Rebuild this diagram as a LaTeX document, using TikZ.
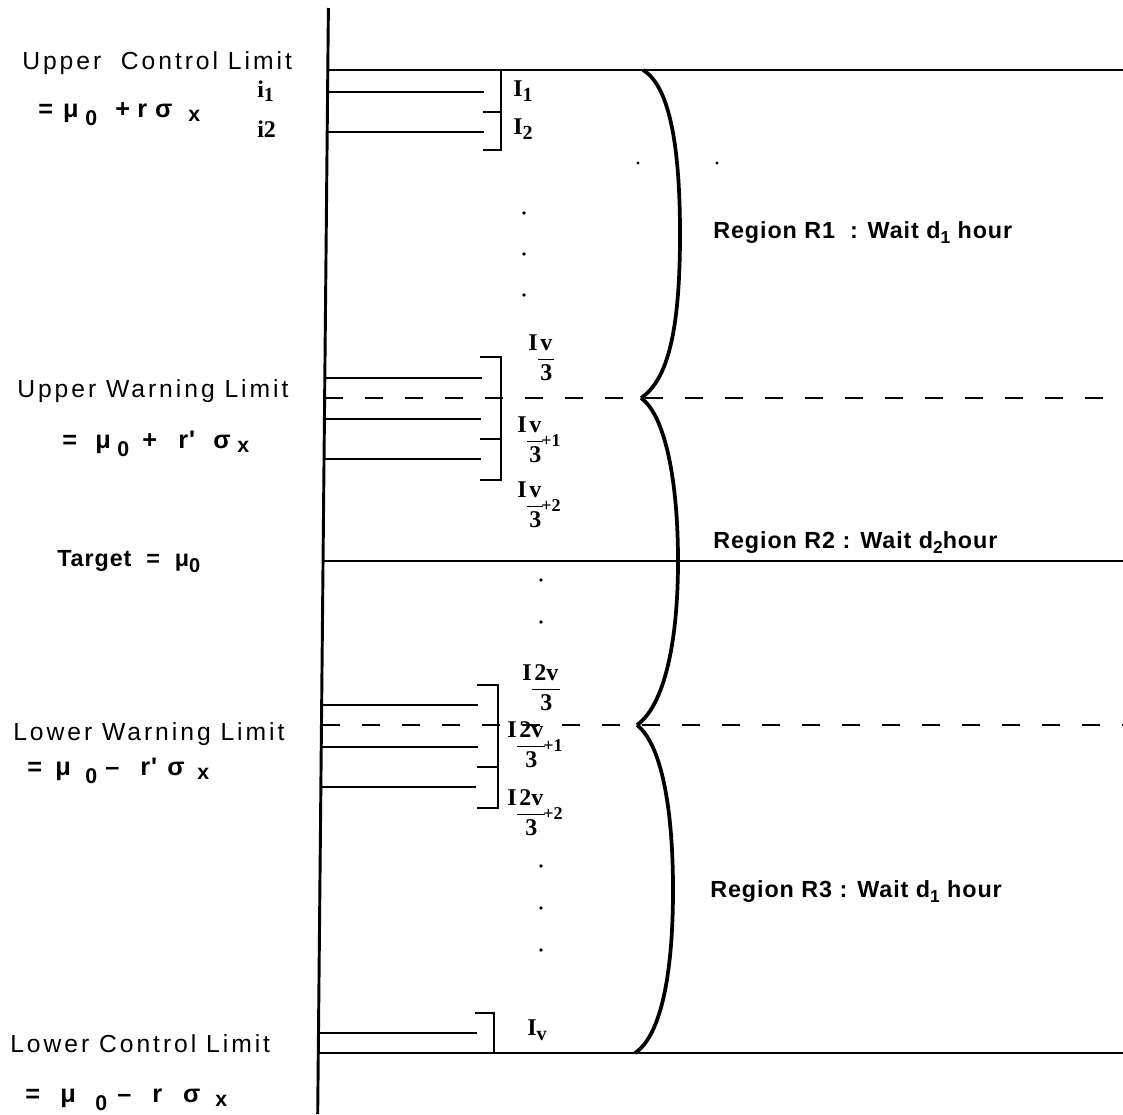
\documentclass[tikz,border=0pt]{standalone}
\usepackage{fontspec}
\setmainfont{Liberation Sans}
\newfontfamily\lblfont[LetterSpace=12]{Liberation Sans}
\newfontfamily\sfb[LetterSpace=4]{Liberation Sans}
\newfontfamily\serfont{Liberation Serif}
\newcommand{\cellw}[2]{\makebox[\dimexpr#1pt*3/4\relax][l]{#2}}
\newcommand{\lw}[3][13]{\raisebox{-#2pt}{\fontsize{#1}{#1}\selectfont #3}}
\newcommand{\Ifr}[2]{I\kern0.5pt\vtop{\halign{\hfil\kern1.5pt##\kern1.5pt\hfil\cr #1\cr\noalign{\kern6.5pt\hrule height 1pt\kern3.5pt}3\cr}}\raisebox{-11.2pt}{\kern-1.5pt\fontsize{13.5}{13.5}\selectfont #2}}
\begin{document}
\begin{tikzpicture}[x=0.75pt,y=-0.75pt,
 ln/.style={line width=2.2pt},
 br/.style={line width=2.8pt},
 dsh/.style={line width=2.2pt,dash pattern=on 14pt off 16pt},
 lbl/.style={anchor=base west,inner sep=0,font={\fontsize{18.5}{22}\lblfont}},
 eq/.style={anchor=base west,inner sep=0,font={\fontsize{19}{22}\sfb\bfseries}},
 reg/.style={anchor=base west,inner sep=0,font={\fontsize{17.5}{21}\sfb\bfseries}},
 ser/.style={anchor=base west,inner sep=0,font={\fontsize{18}{21}\serfont\bfseries}}]
\fill[white] (0,0) rectangle (1123,1114);
\useasboundingbox (0,0) rectangle (1123,1114);
% axis
\coordinate (axtop) at (328.4,8);
\coordinate (axbot) at (317.7,1114);
\draw[ln] (axtop) -- (axbot);
% main horizontal lines
\draw[ln] (327.8,70) -- (1123,70);
\draw[ln] (323.1,561) -- (1123,561);
\draw[ln] (318.3,1053) -- (1123,1053);
\draw[dsh] (324.6,398) -- (1123,398);
\draw[dsh] (321.5,725) -- (1123,725);
% short lines
\draw[ln] (327.6,92) -- (484,92);
\draw[ln] (327.2,132) -- (484,132);
\draw[ln] (324.8,378) -- (482,378);
\draw[ln] (324.4,419) -- (481,419);
\draw[ln] (324.0,459) -- (481,459);
\draw[ln] (321.7,705) -- (478,705);
\draw[ln] (321.3,747) -- (478,747);
\draw[ln] (320.9,787) -- (476,787);
\draw[ln] (318.5,1033) -- (477,1033);
% brackets
\draw[ln] (501,70) -- (501,150) -- (483,150);
\draw[ln] (483,112) -- (501,112);
\draw[ln] (480,357) -- (501,357) -- (501,480) -- (480,480);
\draw[ln] (480,439) -- (501,439);
\draw[ln] (477,685) -- (498,685) -- (498,808) -- (477,808);
\draw[ln] (477,767) -- (498,767);
\draw[ln] (475,1013) -- (494,1013) -- (494,1053);
% braces
\draw[br] (643,70) .. controls (668,85) and (680,140) .. (680,234) .. controls (680,330) and (668,380) .. (641,398);
\draw[br] (641,398) .. controls (665,415) and (678,480) .. (678,561) .. controls (678,640) and (665,705) .. (637,725);
\draw[br] (637,725) .. controls (662,745) and (673,810) .. (673,890) .. controls (673,970) and (662,1035) .. (635,1053);
% dots
\foreach \yy in {213,254,295} \fill (524,\yy) circle (1.4pt);
\foreach \yy in {580,622,866,908,950} \fill (541,\yy) circle (1.4pt);
\fill (638,163) circle (1.2pt);
\fill (717,163) circle (1.2pt);
% left labels
\node[lbl] (ucl) at (22,69) {Upper\ \ Control Limit};
\node[eq] (equcl) at (38,117) {\cellw{25}{=}\cellw{22}{μ}\cellw{30}{\lw[16]{6}{0}}\cellw{22}{+}\cellw{18}{r}\cellw{33}{σ}\lw[16]{3}{x}};
\node[lbl] (uwl) at (17,397) {Upper Warning Limit};
\node[eq] (equwl) at (62,448) {\cellw{33}{=}\cellw{22}{μ}\cellw{25}{\lw[16]{6}{0}}\cellw{36}{+}\cellw{35}{r'}\cellw{24}{σ}\lw[16]{3}{x}};
\node[eq,font={\fontsize{17.5}{21}\sfb\bfseries}] (tgt) at (57,566) {Target\ \ =\ \ μ\lw[15]{5}{0}};
\node[lbl] (lwl) at (13,740) {Lower Warning Limit};
\node[eq] (eqlwl) at (27,775) {\cellw{28}{=}\cellw{30}{μ}\cellw{20}{\lw[16]{6}{0}}\cellw{35}{\textendash}\cellw{27}{r'}\cellw{30}{σ}\lw[16]{3}{x}};
\node[lbl] (lcl) at (10,1052) {Lower Control Limit};
\node[eq] (eqlcl) at (25,1102) {\cellw{35}{=}\cellw{35}{μ}\cellw{22}{\lw[16]{6}{0}}\cellw{35}{\textendash}\cellw{31}{r}\cellw{32}{σ}\lw[16]{3}{x}};
% i labels
\node[ser] (i1) at (257,97) {i\lw[15]{3}{1}};
\node[ser] (i2) at (257,137) {i2};
% interval labels
\node[ser] (I1) at (513,96) {I\lw[15]{4}{1}};
\node[ser] (I2) at (513,134) {I\lw[15]{4}{2}};
\node[ser] (Iv3) at (528,350) {\Ifr{v}{}};
\node[ser] (Iv31) at (517,432) {\Ifr{v}{+1}};
\node[ser] (Iv32) at (517,497) {\Ifr{v}{+2}};
\node[ser] (I2v3) at (522,680) {\Ifr{2v}{}};
\node[ser] (I2v31) at (507,737) {\Ifr{2v}{+1}};
\node[ser] (I2v32) at (507,805) {\Ifr{2v}{+2}};
\node[ser] (Iv) at (527,1035) {I\lw[15]{4}{v}};
% region labels
\node[reg] (r1) at (713,238) {Region R1\ \ : Wait d\lw{4}{1} hour};
\node[reg] (r2) at (713,548) {Region R2 : Wait d\lw{4}{2}hour};
\node[reg] (r3) at (710,897) {Region R3 : Wait d\lw{4}{1} hour};
\end{tikzpicture}
\end{document}
